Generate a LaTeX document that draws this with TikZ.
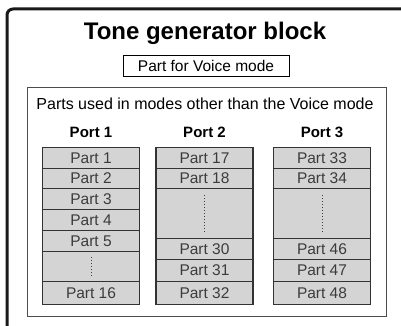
\documentclass[tikz,border=0pt]{standalone}
\usepackage{fontspec}
\setmainfont{Liberation Sans}

\definecolor{cellgray}{HTML}{D4D4D4}
\definecolor{celltext}{HTML}{3C3C3C}
\definecolor{celledge}{HTML}{333333}

\newcommand*{\colw}{97}
\newcommand*{\colA}{91}
\newcommand*{\colB}{204.5}
\newcommand*{\colC}{322}

\begin{document}
\begin{tikzpicture}
[
	x=1pt,
	y=-1pt,
	frame/.style={line width=3pt,black!90,rounded corners=6pt},
	titletext/.style={font=\bfseries\fontsize{24}{24}\selectfont,anchor=base},
	plaintext/.style={font=\fontsize{16}{16}\selectfont,anchor=base},
	porttext/.style={font=\bfseries\fontsize{15}{15}\selectfont,anchor=base},
	modebox/.style={draw,line width=0.8pt,minimum width=166pt,minimum height=21pt,inner sep=0pt,font=\fontsize{15.5}{15.5}\selectfont},
	groupbox/.style={draw=black!70,line width=0.8pt,anchor=north west,minimum width=359pt,minimum height=229pt,inner sep=0pt},
	cell/.style={draw=celledge,fill=cellgray,line width=1.2pt,text=celltext,minimum width=\colw pt,inner sep=0pt,anchor=north,font=\fontsize{15.5}{15.5}\selectfont},
	gapdots/.style={dotted,line width=1pt,celltext}
]

	\useasboundingbox (0,0) rectangle (401,326);

	% outer frame (cut off at right and bottom)
	\draw[frame] (7,340) -- (7,9) -- (412,9);

	% title and voice mode part
	\node[titletext] (title) at (205,40) {Tone generator block};
	\node[modebox] (voice) at (206,65.5) {Part for Voice mode};

	% group of the other parts
	\node[groupbox] (others) at (27,87) {};
	\node[plaintext] (otherslbl) at (205,110) {Parts used in modes other than the Voice mode};

	% port headings
	\node[porttext] (port1) at (\colA,137) {Port 1};
	\node[porttext] (port2) at (\colB,137) {Port 2};
	\node[porttext] (port3) at (\colC,137) {Port 3};

	% port 1
	\foreach \t/\h/\n in {147/21/1,168/20/2,188/21/3,209/21/4,230/21/5,281/23/16} {
		\node[cell,minimum height=\h pt] (part\n) at (\colA,\t) {Part \n};
	}
	\node[cell,minimum height=30pt] (gap1) at (\colA,251) {};

	% port 2
	\foreach \t/\h/\n in {147/21/17,168/20/18,238/21/30,259/22/31,281/23/32} {
		\node[cell,minimum height=\h pt] (part\n) at (\colB,\t) {Part \n};
	}
	\node[cell,minimum height=50pt] (gap2) at (\colB,188) {};

	% port 3
	\foreach \t/\h/\n in {147/21/33,168/20/34,238/21/46,259/22/47,281/23/48} {
		\node[cell,minimum height=\h pt] (part\n) at (\colC,\t) {Part \n};
	}
	\node[cell,minimum height=50pt] (gap3) at (\colC,188) {};

	% skipped parts
	\draw[gapdots] ([yshift=-6pt]gap1.north) -- ([yshift=5pt]gap1.south);
	\draw[gapdots] ([yshift=-7pt]gap2.north) -- ([yshift=6pt]gap2.south);
	\draw[gapdots] ([yshift=-7pt]gap3.north) -- ([yshift=6pt]gap3.south);

\end{tikzpicture}
\end{document}
